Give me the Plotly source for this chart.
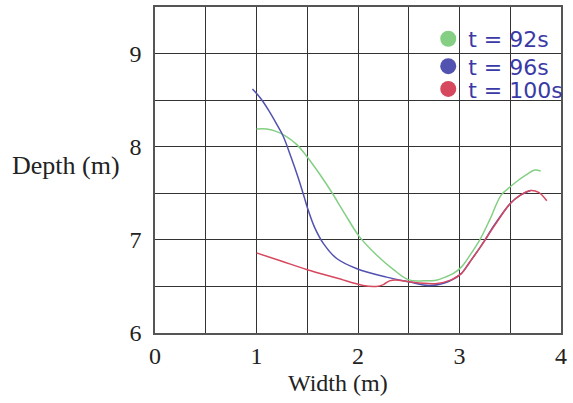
import plotly.graph_objects as go

# t = 92s
x92 = [1.0, 1.1, 1.18, 1.28, 1.4, 1.5, 1.62, 1.73, 1.87, 2.01, 2.18, 2.35, 2.5, 2.65, 2.78, 2.86, 2.94, 3.02, 3.1, 3.2, 3.3, 3.41, 3.5, 3.58, 3.66, 3.74, 3.8]
y92 = [8.19, 8.19, 8.17, 8.12, 8.02, 7.89, 7.71, 7.53, 7.28, 7.04, 6.84, 6.68, 6.57, 6.56, 6.57, 6.6, 6.64, 6.71, 6.83, 7.0, 7.22, 7.48, 7.57, 7.64, 7.7, 7.75, 7.74]

# t = 96s
x96 = [0.96, 1.04, 1.12, 1.2, 1.26, 1.34, 1.41, 1.47, 1.5, 1.57, 1.66, 1.79, 1.99, 2.28, 2.5, 2.7, 2.86, 2.94, 3.02, 3.1, 3.21, 3.35, 3.5, 3.6, 3.7]
y96 = [8.62, 8.52, 8.39, 8.24, 8.12, 7.89, 7.67, 7.46, 7.35, 7.14, 6.96, 6.8, 6.69, 6.6, 6.55, 6.51, 6.54, 6.58, 6.64, 6.76, 6.93, 7.17, 7.39, 7.48, 7.53]

# t = 100s
x100 = [1.0, 1.25, 1.5, 1.79, 2.05, 2.18, 2.25, 2.31, 2.37, 2.5, 2.76, 2.92, 3.02, 3.1, 3.21, 3.35, 3.5, 3.6, 3.7, 3.78, 3.86]
y100 = [6.86, 6.77, 6.68, 6.59, 6.51, 6.5, 6.52, 6.56, 6.57, 6.55, 6.53, 6.57, 6.64, 6.76, 6.93, 7.16, 7.39, 7.48, 7.53, 7.51, 7.42]

series_names = ["t = 92s", "t = 96s", "t = 100s"]
colors = ["#84cf84", "#5252b0", "#d6485e"]

x_ticks = [0, 1, 2, 3, 4]
y_ticks = [6, 7, 8, 9]

fig = go.Figure()
for xs, ys, c in zip([x92, x96, x100], [y92, y96, y100], colors):
    fig.add_trace(go.Scatter(x=xs, y=ys, mode="lines", line=dict(color=c, width=1.5, shape="spline"),
                             showlegend=False, hoverinfo="skip"))
legend_ids = ["legend", "legend2", "legend3"]
for name, c, lg in zip(series_names, colors, legend_ids):
    fig.add_trace(go.Scatter(x=[None], y=[None], mode="markers", name=name, legend=lg,
                             marker=dict(color=c, size=16, symbol="circle")))

serif = "Liberation Serif, Times New Roman, serif"
axis_common = dict(showline=True, mirror=True, linecolor="#555555", linewidth=1.5, automargin=False,
                   showgrid=True, gridcolor="#333333", gridwidth=1.2, zeroline=False,
                   ticks="", tickfont=dict(family=serif, size=24, color="#222222"))
grid_minor = dict(dtick=0.5, showgrid=True, gridcolor="#333333", gridwidth=1.2)
leg_font = dict(family="DejaVu Sans, sans-serif", size=22, color="#3a3aa6")
leg_common = dict(x=0.673, xanchor="left", yanchor="middle", bgcolor="rgba(0,0,0,0)", font=leg_font)

fig.update_layout(
    width=573, height=403, autosize=False,
    margin=dict(l=155, r=5, t=7, b=70),
    paper_bgcolor="white", plot_bgcolor="white",
    xaxis=dict(range=[0, 4], tickvals=x_ticks, ticklabelstandoff=0, minor=grid_minor, **axis_common),
    yaxis=dict(range=[6, 9.5], tickvals=y_ticks, ticklabelstandoff=7, minor=grid_minor, **axis_common),
    legend=dict(y=0.902, **leg_common),
    legend2=dict(y=0.818, **leg_common),
    legend3=dict(y=0.748, **leg_common),
    annotations=[
        dict(text="Depth (m)", x=-0.082, y=0.515, xref="paper", yref="paper",
             xanchor="right", yanchor="middle", showarrow=False,
             font=dict(family=serif, size=26, color="#222222")),
        dict(text="Width (m)", x=0.45, y=-0.153, xref="paper", yref="paper",
             xanchor="center", yanchor="middle", showarrow=False,
             font=dict(family=serif, size=24, color="#222222")),
    ],
)
fig.write_html("out.html", config={"displayModeBar": False, "responsive": False},
               post_script="document.body.style.margin='0';document.body.style.overflow='hidden';")
